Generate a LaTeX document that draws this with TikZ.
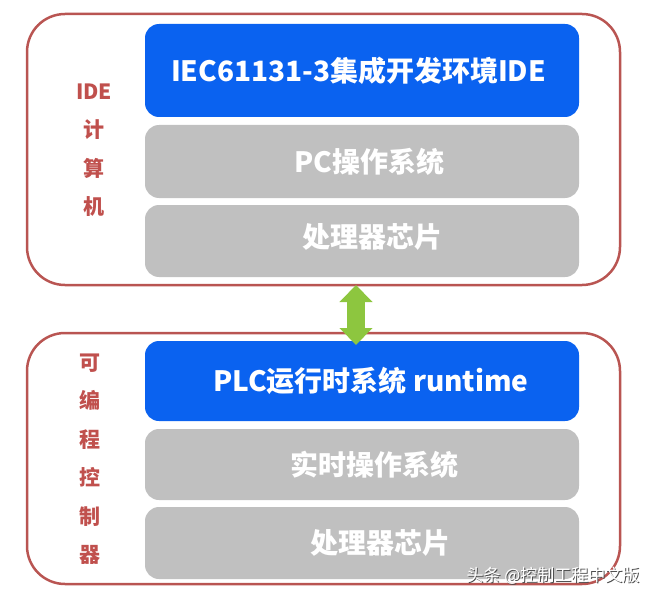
\documentclass[tikz,border=0pt]{standalone}
\usepackage{fontspec}
\setmainfont{Noto Sans CJK SC}
\usetikzlibrary{arrows.meta, positioning}
\definecolor{layerblue}{RGB}{10,98,240}
\definecolor{layergray}{RGB}{192,192,192}
\definecolor{framered}{RGB}{185,85,82}
\definecolor{labelred}{RGB}{192,80,77}
\definecolor{linkgreen}{RGB}{141,198,63}

\tikzset{
  host/.style={draw=framered, line width=2.5pt, rounded corners=38pt, minimum width=593pt, inner sep=0pt, outer sep=0pt, anchor=north west},
  layer/.style={rounded corners=14pt, minimum width=434pt, inner sep=0pt, outer sep=0pt},
  bluelayer/.style={layer, fill=layerblue},
  graylayer/.style={layer, fill=layergray},
  layertext/.style={text=white, font=\bfseries\fontsize{28}{30}\selectfont, inner sep=0pt},
  sidetext/.style={text=labelred, align=center, font=\bfseries\fontsize{21}{38.5}\selectfont, inner sep=0pt},
  credittext/.style={font=\fontsize{17}{19}\selectfont, inner sep=0pt}
}

\begin{document}
\begin{tikzpicture}[x=1pt, y=-1pt]
\useasboundingbox (0,0) rectangle (650,599);
% The two hosts
\node[host, minimum height=271pt] (ide) at (27,14) {};
\node[host, minimum height=251pt] (plc) at (27,333) {};

% IDE computer layers
\node[bluelayer, minimum height=93pt, anchor=north west] (ideapp) at (145,24) {};
\node[graylayer, minimum height=73pt, below=8pt of ideapp] (pcos) {};
\node[graylayer, minimum height=72pt, below=7pt of pcos] (pccpu) {};
\node[layertext, xshift=-3.5pt] (ideapptext) at (ideapp.center) {IEC61131-3集成开发环境IDE};
\node[layertext, xshift=7.5pt] (pcostext) at (pcos.center) {PC操作系统};
\node[layertext, xshift=10pt, yshift=4pt] (pccputext) at (pccpu.center) {处理器芯片};

% PLC layers
\node[bluelayer, minimum height=80pt, anchor=north west] (plcapp) at (145,341) {};
\node[graylayer, minimum height=71pt, below=8pt of plcapp] (rtos) {};
\node[graylayer, minimum height=72pt, below=7pt of rtos] (plccpu) {};
\node[layertext, xshift=9pt] (plcapptext) at (plcapp.center) {PLC运行时系统 runtime};
\node[layertext, xshift=12.5pt] (rtostext) at (rtos.center) {实时操作系统};
\node[layertext, xshift=18pt] (plccputext) at (plccpu.center) {处理器芯片};

% Side labels
\node[sidetext] (idelabel) at (94,150) {IDE\\计\\算\\机};
\node[sidetext] (plclabel) at (90,459) {可\\编\\程\\控\\制\\器};

% The link
\coordinate (linkx) at (356,0);
\draw[linkgreen, line width=18pt, shorten >=-4pt, {Triangle[length=17pt,width=32pt]}-{Triangle[length=17pt,width=32pt]}] (ide.south -| linkx) -- (plcapp.north -| linkx);

% Credit
\node[credittext, text=black!70] (creditshadow) at (554,577) {头条 @控制工程中文版};
\node[credittext, text=white] (credit) at (553,576) {头条 @控制工程中文版};
\end{tikzpicture}
\end{document}
